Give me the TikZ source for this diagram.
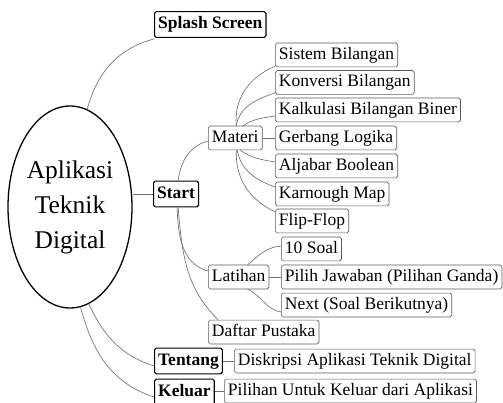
\documentclass[tikz,border=0pt]{standalone}
\usepackage{fontspec}
\setmainfont{Liberation Serif}
\usetikzlibrary{shapes.geometric}
\definecolor{linegray}{HTML}{707070}
\definecolor{boxgray}{HTML}{5A5A5A}
\tikzset{
  base/.style={rectangle, rounded corners=1.8pt, anchor=west, inner xsep=3.6pt,
    text height=12.6pt, text depth=4pt, font=\fontsize{17.5}{21}\selectfont},
  leaf/.style={base, draw=boxgray, line width=0.7pt, inner ysep=3.6pt},
  hub/.style={base, draw=black, line width=1.1pt, inner ysep=4.6pt,
    font=\fontsize{17.5}{21}\selectfont\bfseries},
  conn/.style={draw=linegray, line width=0.65pt},
}
\begin{document}
\begin{tikzpicture}[x=1pt,y=-1pt]
\useasboundingbox (0,0) rectangle (503,403);
% root
\node[ellipse, draw=black, line width=1.3pt, minimum width=124pt, minimum height=202pt,
  inner sep=0pt, align=center, font=\fontsize{25.5}{35}\selectfont] (root) at (70,207)
  {Aplikasi\\Teknik\\Digital};
% hubs
\node[hub] (splash) at (154,24.5) {Splash Screen};
\node[hub] (start) at (153,194) {Start};
\node[hub] (tentang) at (154,361) {Tentang};
\node[hub] (keluar) at (154,392) {Keluar};
% second level
\node[leaf] (materi) at (208,138) {Materi};
\node[leaf] (latihan) at (208,277) {Latihan};
\node[leaf] (daftar) at (208,332) {Daftar Pustaka};
\node[leaf] (diskripsi) at (234,361) {Diskripsi Aplikasi Teknik Digital};
\node[leaf] (pilihan) at (224,391) {Pilihan Untuk Keluar dari Aplikasi};
% materi leaves
\node[leaf] (sistem) at (275,55) {Sistem Bilangan};
\node[leaf] (konversi) at (275,82.5) {Konversi Bilangan};
\node[leaf] (kalkulasi) at (275,110) {Kalkulasi Bilangan Biner};
\node[leaf] (gerbang) at (275,138) {Gerbang Logika};
\node[leaf] (aljabar) at (275,166) {Aljabar Boolean};
\node[leaf] (karnough) at (275,194) {Karnough Map};
\node[leaf] (flip) at (275,221) {Flip-Flop};
% latihan leaves
\node[leaf] (soal) at (281,249) {10 Soal};
\node[leaf] (pilih) at (281,277) {Pilih Jawaban (Pilihan Ganda)};
\node[leaf] (next) at (281,305) {Next (Soal Berikutnya)};
% connectors from root
\draw[conn] (root.80) to[out=75,in=195] ([yshift=-1pt]splash.south west);
\draw[conn] (start.west -| root.east) -- (start.west);
\draw[conn] (root.-79) to[out=-65,in=162] ([yshift=-5pt]tentang.west);
\draw[conn] (root.-84) to[out=-75,in=162] ([yshift=-5pt]keluar.west);
% start
\draw[conn] ([xshift=2pt]start.north) to[out=82,in=195] ([yshift=-3pt]materi.west);
\draw[conn] ([xshift=1pt]start.south) to[out=-88,in=165] ([yshift=6pt]latihan.west);
\draw[conn] ([xshift=2pt]start.south) to[out=-85,in=135] ([xshift=10pt]daftar.north west);
% materi
\draw[conn] ([xshift=1pt]materi.north) to[out=95,in=203] ([yshift=1pt]sistem.south west);
\draw[conn] ([xshift=1pt]materi.north) to[out=80,in=200] ([yshift=2pt]konversi.south west);
\draw[conn] ([xshift=8pt]materi.north) to[out=35,in=190] ([yshift=-6pt]kalkulasi.west);
\draw[conn] (materi.east) -- (gerbang.west);
\draw[conn] ([xshift=5pt]materi.south) to[out=-35,in=170] ([yshift=4pt]aljabar.west);
\draw[conn] ([xshift=2pt]materi.south) to[out=-80,in=160] ([yshift=7pt]karnough.west);
\draw[conn] ([xshift=1pt]materi.south) to[out=-92,in=155] ([yshift=-3pt]flip.north west);
% latihan
\draw[conn] ([xshift=9pt]latihan.north) to[out=40,in=185] ([yshift=3pt]soal.west);
\draw[conn] (latihan.east) -- (pilih.west);
\draw[conn] ([xshift=9pt]latihan.south) to[out=-25,in=170] ([yshift=-7pt]next.west);
% tentang, keluar
\draw[conn] (tentang.east) -- (diskripsi.west);
\draw[conn] (keluar.east |- pilihan.west) -- (pilihan.west);
\end{tikzpicture}
\end{document}
